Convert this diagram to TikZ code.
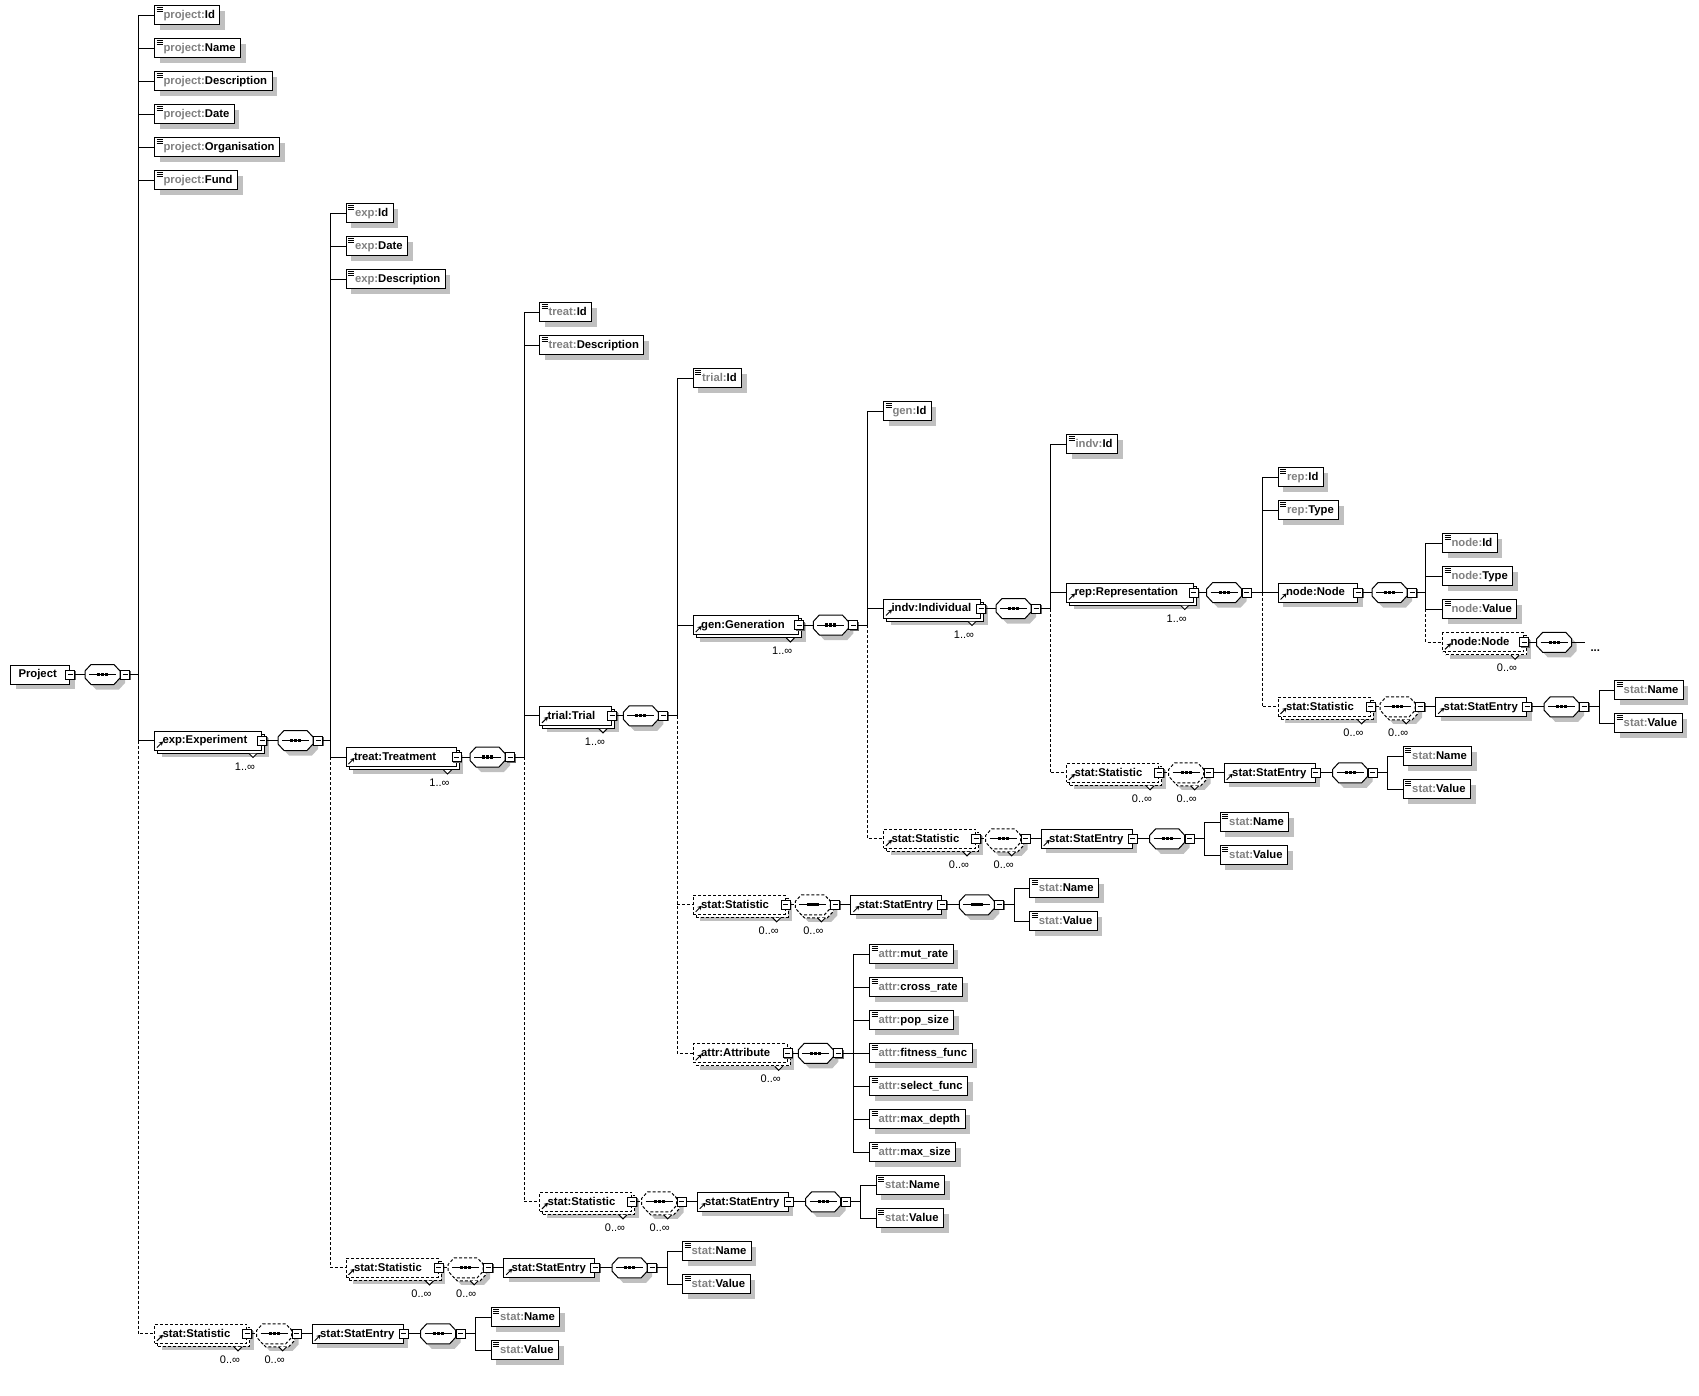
\documentclass[tikz,border=0pt]{standalone}
\usepackage{fontspec}
\setmainfont{Liberation Sans}
\usetikzlibrary{shadows,arrows.meta}
\definecolor{shade}{RGB}{192,192,192}
\definecolor{pfxgray}{RGB}{128,128,128}
\newcommand\elfont{\fontsize{11.3}{13}\selectfont\bfseries}
\newcommand\mfont{\fontsize{11}{13}\selectfont}
\newcommand\pfx[1]{\textcolor{pfxgray}{#1}}
\tikzset{
  dsh/.style={dash pattern=on 3pt off 2pt},
  shadowed/.style={drop shadow={shadow xshift=5pt,shadow yshift=-5pt,fill=shade,opacity=1}},
  stacked/.style={drop shadow={shadow xshift=7pt,shadow yshift=-7pt,fill=shade,opacity=1},
    general shadow={shadow xshift=3pt,shadow yshift=-3pt,fill=white,draw=black}},
  optstack/.style={dsh,drop shadow={shadow xshift=7pt,shadow yshift=-7pt,fill=shade,opacity=1},
    general shadow={shadow xshift=3pt,shadow yshift=-3pt,fill=white,draw=black,dsh}},
  elbox/.style={draw,fill=white,anchor=west,inner xsep=0pt,inner ysep=0pt,minimum height=19pt,
    text height=8.5pt,text depth=2pt,font=\elfont},
  leaf/.style={elbox,shadowed,execute at begin node={\hspace*{9pt}},execute at end node={\hspace*{5pt}},
    path picture={\foreach \k in {-1.5pt,-3.5pt,-5.5pt}
      \draw[solid] ([xshift=2pt,yshift=\k]path picture bounding box.north west) -- ++(6pt,0pt);}},
  refbox/.style={elbox,path picture={\draw[solid,-{Stealth[length=4pt,width=4.5pt]}]
      ([shift={(2.5pt,2.5pt)}]path picture bounding box.south west) -- ++(6pt,6pt);}},
  sq/.style={draw,fill=white,solid,minimum size=9pt,inner sep=0pt,
    drop shadow={shadow xshift=1pt,shadow yshift=-1pt,fill=black!60,opacity=1},
    path picture={\draw ([xshift=2pt]path picture bounding box.west) -- ([xshift=-2pt]path picture bounding box.east);}},
  seqbox/.style={minimum width=34pt,minimum height=19pt,inner sep=0pt,anchor=west},
  mlt/.style={font=\mfont,anchor=base east,inner sep=0pt}
}
% octagon of a sequence compositor round node #1
\newcommand\octo[2]{\path[#2] ([xshift=6pt]#1.north west) -- ([xshift=-6pt]#1.north east)
  -- ([yshift=-6.5pt]#1.north east) -- ([yshift=6.5pt]#1.south east) -- ([xshift=-6pt]#1.south east)
  -- ([xshift=6pt]#1.south west) -- ([yshift=6.5pt]#1.south west) -- ([yshift=-6.5pt]#1.north west) -- cycle;}
\newcommand\seqbody[4][shadowed]{%
  \node[seqbox] (#2) at (#3,#4) {};
  \octo{#2}{draw,fill=white,#1}
  \draw[solid] ([xshift=4pt]#2.west) -- ([xshift=-4pt]#2.east);
  \foreach \d in {-4pt,0pt,4pt} \fill ([xshift=\d]#2.center) +(-1.6pt,-1.6pt) rectangle +(1.6pt,1.6pt);}
\newcommand\seqn[4][shadowed]{\seqbody[#1]{#2}{#3}{#4}\node[sq] (#2m) at ([xshift=5pt]#2.east) {};}
\newcommand\elem[5][shadowed]{%
  \node[refbox,#1] (#2) at (#3) {\makebox[#4][l]{\hspace{8pt}#5}};
  \node[sq] (#2m) at (#2.east) {};}
\newcommand\multlbl[2]{%
  \draw[solid,fill=white] ([xshift=-13pt,yshift=-3pt]#1.south east) -- ++(4pt,-4pt) -- ++(4pt,4pt);
  \node[mlt] (#1l) at ([xshift=-6.5pt,yshift=-19.5pt]#1.south east) {#2};}
% stat:Statistic / stat:StatEntry group, #2 = left x, #3 = y
\newcommand\statgrp[3]{%
  \elem[optstack]{#1}{#2,#3}{92pt}{stat:Statistic}
  \multlbl{#1}{0..∞}
  \seqn[optstack]{#1q}{#2+102.7}{#3}
  \multlbl{#1q}{0..∞}
  \elem{#1e}{#2+157.7,#3}{91pt}{stat:StatEntry}
  \seqn{#1eq}{#2+266.7}{#3}
  \coordinate (#1s) at (#2+321.7,#3);
  \node[leaf] (#1n) at (#2+336.7,#3-16.5) {\pfx{stat:}Name};
  \node[leaf] (#1v) at (#2+336.7,#3+16.5) {\pfx{stat:}Value};
  \draw[dsh] (#1m.east) -- (#1q.west);
  \draw (#1qm.east) -- (#1e.west);
  \draw (#1em.east) -- (#1eq.west);
  \draw (#1eqm.east) -- (#1s);
  \draw (#1n.west) -| (#1s) |- (#1v.west);}
\begin{document}
\begin{tikzpicture}[x=1pt,y=-1pt,line width=1pt]
\useasboundingbox (0,0) rectangle (1699,1396);
% Project
\node[elbox,shadowed] (prj) at (10,674.5) {\makebox[59pt][l]{\hspace{8pt}Project}};
\node[sq] (prjm) at (prj.east) {};
\seqn{pseq}{85}{674.5}
\coordinate (s0) at (138.5,674.5);
\foreach \nm/\y/\loc in {pid/15.3/Id,pnam/48.3/Name,pdsc/81.3/Description,pdat/114.3/Date,porg/147.3/Organisation,pfnd/180.3/Fund}
  \node[leaf] (\nm) at (154,\y) {\pfx{project:}\loc};
\elem[stacked]{exp}{154,740.5}{107pt}{exp:Experiment}
\multlbl{exp}{1..∞}
\statgrp{pst}{154}{1333.8}
\draw (prjm.east) -- (pseq.west);
\draw (pseqm.east) -- (s0);
\foreach \nm in {pid,pnam,pdsc,pdat,porg,pfnd,exp} \draw (\nm.west -| s0) -- (\nm.west);
\draw (pid.west -| s0) -- (exp.west -| s0);
\draw[dsh] (exp.west -| s0) -- (pst.west -| s0) -- (pst.west);
% Experiment
\seqn{eseq}{278}{740.5}
\coordinate (s1) at (330.5,740.5);
\foreach \nm/\y/\loc in {eid/213.3/Id,edat/246.3/Date,edsc/279.3/Description}
  \node[leaf] (\nm) at (345.5,\y) {\pfx{exp:}\loc};
\elem[stacked]{trt}{345.5,757}{110pt}{treat:Treatment}
\multlbl{trt}{1..∞}
\statgrp{est}{345.5}{1267.8}
\draw (expm.east) -- (eseq.west);
\draw (eseqm.east) -- (s1);
\foreach \nm in {eid,edat,edsc,trt} \draw (\nm.west -| s1) -- (\nm.west);
\draw (eid.west -| s1) -- (trt.west -| s1);
\draw[dsh] (trt.west -| s1) -- (est.west -| s1) -- (est.west);
% Treatment
\seqn{tseq}{470}{757}
\coordinate (s2) at (524,757);
\foreach \nm/\y/\loc in {tid/312.3/Id,tdsc/345.3/Description}
  \node[leaf] (\nm) at (539,\y) {\pfx{treat:}\loc};
\elem[stacked]{tri}{539,715.8}{72pt}{trial:Trial}
\multlbl{tri}{1..∞}
\statgrp{tst}{539}{1201.8}
\draw (trtm.east) -- (tseq.west);
\draw (tseqm.east) -- (s2);
\foreach \nm in {tid,tdsc,tri} \draw (\nm.west -| s2) -- (\nm.west);
\draw (tid.west -| s2) -- (s2);
\draw[dsh] (s2) -- (tst.west -| s2) -- (tst.west);
% Trial
\seqn{rseq}{623.3}{715.8}
\coordinate (s3) at (677.3,715.8);
\node[leaf] (rid) at (692.7,378.3) {\pfx{trial:}Id};
\elem[stacked]{gen}{692.7,625}{105.6pt}{gen:Generation}
\multlbl{gen}{1..∞}
\statgrp{rst}{692.7}{904.8}
\elem[optstack]{att}{692.7,1053.3}{94pt}{attr:Attribute}
\multlbl{att}{0..∞}
\seqn{aseq}{798.3}{1053.3}
\coordinate (sa) at (853.3,1053.3);
\foreach \nm/\y/\loc in {a1/954.3/mut\_rate,a2/987.3/cross\_rate,a3/1020.3/pop\_size,a4/1053.3/fitness\_func,a5/1086.3/select\_func,a6/1119.3/max\_depth,a7/1152.3/max\_size}
  \node[leaf] (\nm) at (869,\y) {\pfx{attr:}\loc};
\draw (trim.east) -- (rseq.west);
\draw (rseqm.east) -- (s3);
\foreach \nm in {rid,gen} \draw (\nm.west -| s3) -- (\nm.west);
\draw (rid.west -| s3) -- (s3);
\draw[dsh] (s3) -- (att.west -| s3) -- (att.west);
\draw[dsh] (rst.west -| s3) -- (rst.west);
\draw (attm.east) -- (aseq.west);
\draw (aseqm.east) -- (sa);
\foreach \nm in {a1,a2,a3,a4,a5,a6,a7} \draw (\nm.west -| sa) -- (\nm.west);
\draw (a1.west -| sa) -- (a7.west -| sa);
% Generation
\seqn{gseq}{813.3}{625}
\coordinate (s4) at (867.3,625);
\node[leaf] (gid) at (883,411.3) {\pfx{gen:}Id};
\elem[stacked]{ind}{883,608.5}{97pt}{indv:Individual}
\multlbl{ind}{1..∞}
\statgrp{gst}{883}{838.8}
\draw (genm.east) -- (gseq.west);
\draw (gseqm.east) -- (s4);
\foreach \nm in {gid,ind} \draw (\nm.west -| s4) -- (\nm.west);
\draw (gid.west -| s4) -- (s4);
\draw[dsh] (s4) -- (gst.west -| s4) -- (gst.west);
% Individual
\seqn{iseq}{996}{608.5}
\coordinate (s5) at (1050,608.5);
\node[leaf] (iid) at (1066,444.3) {\pfx{indv:}Id};
\elem[stacked]{rep}{1066,592.5}{126.7pt}{rep:Representation}
\multlbl{rep}{1..∞}
\statgrp{ist}{1066}{772.8}
\draw (indm.east) -- (iseq.west);
\draw (iseqm.east) -- (s5);
\foreach \nm in {iid,rep} \draw (\nm.west -| s5) -- (\nm.west);
\draw (iid.west -| s5) -- (s5);
\draw[dsh] (s5) -- (ist.west -| s5) -- (ist.west);
% Representation
\seqn{repq}{1206.7}{592.5}
\coordinate (s6) at (1262.7,592.5);
\foreach \nm/\y/\loc in {repid/477.3/Id,reptyp/510.3/Type}
  \node[leaf] (\nm) at (1277.5,\y) {\pfx{rep:}\loc};
\elem{nod}{1277.5,592.5}{79.7pt}{node:Node}
\statgrp{rpst}{1277.5}{706.8}
\draw (repm.east) -- (repq.west);
\draw (repqm.east) -- (s6);
\foreach \nm in {repid,reptyp,nod} \draw (\nm.west -| s6) -- (\nm.west);
\draw (repid.west -| s6) -- (s6);
\draw[dsh] (s6) -- (rpst.west -| s6) -- (rpst.west);
% Node
\seqn{nodq}{1372}{592.5}
\coordinate (s7) at (1425.7,592.5);
\foreach \nm/\y/\loc in {nid/543.3/Id,ntyp/576.3/Type,nval/609.3/Value}
  \node[leaf] (\nm) at (1442,\y) {\pfx{node:}\loc};
\elem[optstack]{nnd}{1442,642.3}{81pt}{node:Node}
\multlbl{nnd}{0..∞}
\seqbody{nnq}{1536.7}{642.3}
\coordinate (nnend) at (1585,642.3);
\node[font=\elfont,anchor=base west,inner sep=0pt] (more) at (1590,651) {...};
\draw (nodm.east) -- (nodq.west);
\draw (nodqm.east) -- (s7);
\foreach \nm in {nid,ntyp,nval} \draw (\nm.west -| s7) -- (\nm.west);
\draw (nid.west -| s7) -- (nval.west -| s7);
\draw[dsh] (nval.west -| s7) -- (nnd.west -| s7) -- (nnd.west);
\draw (nndm.east) -- (nnq.west);
\draw (nnq.east) -- (nnend);
\end{tikzpicture}
\end{document}
